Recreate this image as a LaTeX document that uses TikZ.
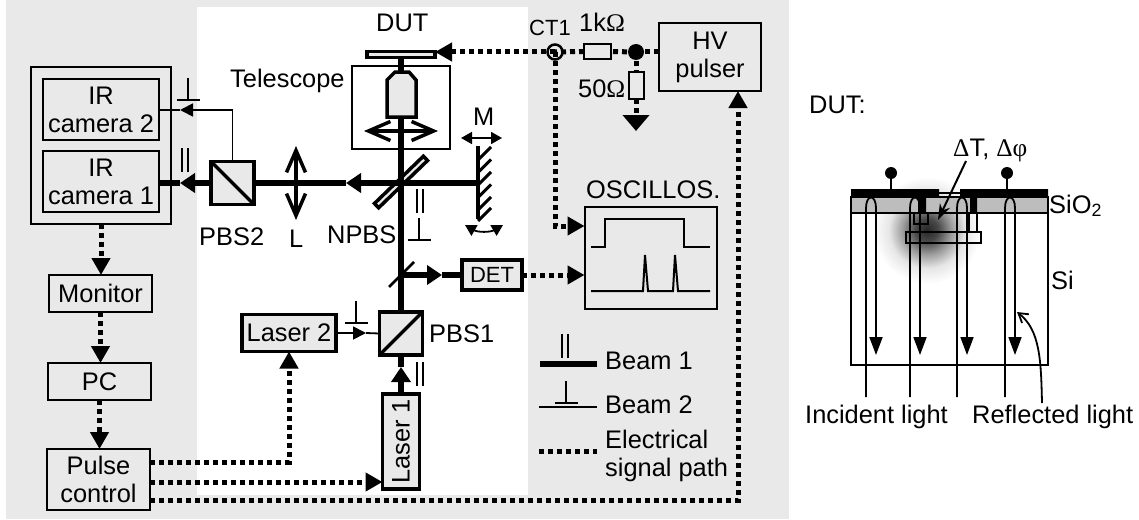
\documentclass[tikz,border=0pt]{standalone}
\usepackage{fontspec}
\setmainfont{Liberation Sans}
\newfontfamily\symfont{Liberation Serif}
\usepackage{tikz}
\usetikzlibrary{arrows.meta,positioning}
\definecolor{bggray}{HTML}{E9E9E9}
\definecolor{oxide}{HTML}{BDBDBD}
\pgfdeclareradialshading{heatglow}{\pgfpointorigin}{color(0bp)=(black!85); color(5bp)=(black!72); color(11bp)=(black!38); color(17bp)=(black!10); color(24bp)=(white); color(50bp)=(white)}

\begin{document}
\begin{tikzpicture}[
    x=1pt, y=-1pt,
    txt/.style={font=\fontsize{25.4}{28}\selectfont, inner sep=0pt, anchor=base west},
    box/.style={draw, line width=2pt, fill=bggray, align=center, inner sep=0pt, outer sep=0pt,
                font=\fontsize{25.4}{28}\selectfont},
    heavybox/.style={box, line width=3.5pt},
    cube/.style={heavybox, minimum size=43pt},
    beamone/.style={line width=6pt},
    beamtwo/.style={line width=1.8pt},
    elec/.style={line width=5pt, dash pattern=on 5pt off 4pt},
    headone/.style={-{Triangle[length=15pt,width=19pt]}},
    headtwo/.style={-{Triangle[length=13pt,width=13pt]}},
    headelec/.style={-{Triangle[length=17pt,width=18pt]}},
    lensarr/.style={{Straight Barb[length=22pt,width=19pt]}-{Straight Barb[length=22pt,width=19pt]}, line width=3.5pt},
    smallarr/.style={{Triangle[length=11pt,width=12pt]}-{Triangle[length=11pt,width=12pt]}, line width=1.8pt},
    lightleg/.style={line width=1.8pt, -{Triangle[length=18pt,width=13pt]}},
    parmark/.pic={\draw[line width=1.6pt] (-3,0) -- (-3,-24) (3,0) -- (3,-24);},
    perpmark/.pic={\draw[line width=1.6pt] (-11.5,0) -- (11.5,0) (0,0) -- (0,-22);}
  ]
  \useasboundingbox (0,0) rectangle (1139,519);
  \fill[bggray] (6,0) rectangle (789,519);
  \fill[white] (197,7) rectangle (528,495);

  % detection side
  \node[box, minimum width=140pt, minimum height=157pt] (camera) at (101,145.5) {};
  \node[box, minimum width=116pt, minimum height=61pt] (cam2) at (101,109.5) {IR\\camera 2};
  \node[box, minimum width=116pt, minimum height=61pt] (cam1) at (101,181.5) {IR\\camera 1};
  \node[box, minimum width=103pt, minimum height=37pt] (monitor) at (100.5,293.5) {Monitor};
  \node[box, minimum width=103pt, minimum height=37pt] (pc) at (99.5,381.5) {PC};
  \node[box, minimum width=103pt, minimum height=61pt] (pulse) at (98.5,479.5) {Pulse\\control};

  % optics
  \node[cube] (pbs2) at (232.5,183) {};
  \node[cube] (pbs1) at (401,333.5) {};
  \node[heavybox, minimum width=68pt, minimum height=6pt, rotate=44] (npbs) at (401,182) {};
  \node[heavybox, minimum width=68pt, minimum height=6pt] (dut) at (401,54.5) {};
  \node[heavybox, minimum width=94pt, minimum height=37pt] (laser2) at (289,333) {Laser 2};
  \node[heavybox, minimum width=95pt, minimum height=37pt, rotate=90] (laser1) at (401,441.5) {Laser 1};
  \node[heavybox, minimum width=60pt, minimum height=30pt,
        font=\fontsize{22}{26}\selectfont] (det) at (492,275) {DET};
  \draw[line width=3.5pt] (pbs2.north west) -- (pbs2.south east);
  \draw[line width=3.5pt] (pbs1.south west) -- (pbs1.north east);
  \coordinate (mirror) at (478,183);
  \coordinate (split) at (401,275);

  % electrical parts
  \node[box, minimum width=102pt, minimum height=68pt, fill=none] (hv) at (710,57) {HV\\pulser};
  \node[box, minimum width=132pt, minimum height=102pt, fill=none] (osc) at (650.5,257.5) {};
  \node[box, minimum width=27pt, minimum height=15pt] (rone) at (597.5,51.5) {};
  \node[box, minimum width=15pt, minimum height=27pt] (rtwo) at (636,85.5) {};
  \node[circle, fill=black, minimum size=16pt, inner sep=0pt, outer sep=0pt] (junc) at (636,52) {};
  \node[circle, draw, line width=2.5pt, minimum size=15pt, inner sep=0pt, outer sep=0pt] (ct) at (555,52) {};
  \coordinate (gnd) at (636,131);

  % beams
  \draw[beamone] (dut.south) -- (pbs1.north);
  \draw[beamone, headone] (mirror) -- (346,183) coordinate (tipa);
  \draw[beamone] (tipa) -- (pbs2.east);
  \draw[beamone, headone] (pbs2.west) -- (180,183) coordinate (tipb);
  \draw[beamone] (tipb) -- (tipb -| cam1.east);
  \draw[beamtwo, headtwo] (pbs2.north) |- (180,110) coordinate (tipc);
  \draw[beamtwo] (tipc) -- (tipc -| cam2.east);
  \draw[beamone, headone] (split) -- (442,275) coordinate (tipd);
  \draw[beamone] (tipd) -- (det.west);
  \draw[beamone, headone] (laser1.east) -- (401,367) coordinate (tipe);
  \draw[beamone] (tipe) -- (pbs1.south);
  \draw[beamtwo, headtwo] (laser2.east) -- (366,333) coordinate (tipf);
  \draw[beamtwo] (tipf) -- (pbs1.west);
  \draw[line width=2.5pt] (389,287) -- (414,262);

  % telescope and mirror
  \node[draw, line width=1.6pt, minimum width=98pt, minimum height=83pt, inner sep=0pt] (scope) at (401,107.5) {};
  \draw[line width=3.5pt, fill=bggray] (387,117) -- (387,80) -- (395,72) -- (409,72) -- (416,80) -- (416,117) -- cycle;
  \draw[lensarr] (364,131) -- (438,131);
  \draw[lensarr] (296,146) -- (296,220);
  \draw[line width=3.5pt] (478,146) -- (478,219);
  \foreach \y in {147,159.5,172,184.5,197,208}
    \draw[line width=3pt] (491,\y) -- (478,\y+13);
  \draw[smallarr] (461,138) -- (502,138);
  \draw[smallarr] (465,225) to[bend right=30] (503,225);

  % electrical paths
  \draw[elec] ([yshift=5pt]hv.west) -- (junc.center);
  \draw[elec] (junc.center) -- (rone.east);
  \draw[elec] (rone.west) -- (ct.center);
  \draw[elec, headelec] (ct.center) -- ([yshift=2.5pt]dut.east);
  \draw[elec] (junc.center) -- (rtwo.north);
  \draw[elec, -{Triangle[length=16pt,width=26pt]}] (rtwo.south) -- (gnd);
  \draw[elec, headelec] (ct.center) |- ([yshift=31.5pt]osc.west);
  \draw[elec, headelec] (det.east) -- (det.east -| osc.west);
  \draw[elec, headelec] (camera.south) -- (camera.south |- monitor.north);
  \draw[elec, headelec] (monitor.south) -- (monitor.south |- pc.north);
  \draw[elec, headelec] (pc.south) -- (pc.south |- pulse.north);
  \draw[elec, headelec] ([yshift=17.5pt]pulse.east) -| (laser2.south);
  \draw[elec, headelec] ([yshift=-2.5pt]pulse.east) -- ([yshift=-40.5pt]laser1.north);
  \draw[elec, headelec] ([yshift=-21pt]pulse.east) -| ([xshift=28pt]hv.south);

  % scope traces
  \draw[line width=2pt] (591,247) -- (605,247) -- (605,219) -- (684,219) -- (684,247) -- (710,247);
  \draw[line width=2pt] (591,291) -- (643,291) -- (645,255) -- (648,291) -- (673,291) -- (675,255) -- (678,291) -- (710,291);

  % polarisation marks
  \pic at (185,172) {parmark};
  \pic at (420,213) {parmark};
  \pic at (420,386) {parmark};
  \pic at (565,358) {parmark};
  \pic at (188,100) {perpmark};
  \pic at (419,240) {perpmark};
  \pic at (356,323) {perpmark};
  \pic at (566,403) {perpmark};

  % legend
  \coordinate (keyone) at (540,364);
  \coordinate (keytwo) at (539,407);
  \coordinate (keyel) at (539,451);
  \draw[beamone] (keyone) -- ++(57,0);
  \draw[beamtwo] (keytwo) -- ++(58,0);
  \draw[elec] (keyel) -- ++(58,0);

  % labels
  \node[txt] (telelab) at (230,87) {Telescope};
  \node[txt] (dutlab) at (376,32) {DUT};
  \node[txt, font=\fontsize{22}{26}\selectfont] (ctlab) at (529,36) {CT1};
  \node[txt] (ronelab) at (579,32) {1k{\symfont Ω}};
  \node[txt] (rtwolab) at (578,97) {50{\symfont Ω}};
  \node[txt] (osclab) at (586,198) {OSCILLOS.};
  \node[txt] (mlab) at (473,125) {M};
  \node[txt] (pbstwolab) at (199,245) {PBS2};
  \node[txt] (llab) at (289,247) {L};
  \node[txt] (npbslab) at (327,243) {NPBS};
  \node[txt] (pbsonelab) at (429,342) {PBS1};
  \node[txt] (keyonelab) at (605,369) {Beam 1};
  \node[txt] (keytwolab) at (605,413) {Beam 2};
  \node[txt, anchor=west, align=left] (keyellab) at (605,456) {Electrical\\signal path};

  % device cross section
  \node[txt] (devlab) at (809,113) {DUT:};
  \shade[shading=heatglow] (927,230) circle (56);
  \draw[line width=1.8pt, fill=oxide] (851,197) rectangle (1048,213);
  \draw[line width=1.8pt] (851,213) rectangle (1048,365);
  \draw[line width=1.8pt] (914,213) rectangle (928,224);
  \draw[line width=1.8pt] (906,232) rectangle (981,243);
  \draw[line width=1.8pt] (969,213) -- (969,232) (977,213) -- (977,232);
  \draw[line width=1.8pt] (939,193) -- (960,193);
  \fill (851,189) rectangle (939,197) (960,189) rectangle (1048,197);
  \fill (918,197) rectangle (926,213) (970,197) rectangle (977,213);
  \foreach \px in {891,1007} {
    \fill (\px,173) circle (6);
    \draw[line width=1.8pt] (\px,173) -- (\px,189);
  }
  \foreach \a in {866,910,957,1005}
    \draw[lightleg] (\a,397) -- (\a,208) .. controls (\a,194) and ({\a+10},194) .. ({\a+10},208) -- ({\a+10},355);
  \draw[line width=2pt, -{Stealth[length=16pt,width=11pt]}] (966,161) -- (938,220);
  \draw[line width=1.8pt, -{Straight Barb[length=9pt,width=11pt]}] (1042,403) .. controls (1041,360) and (1040,330) .. (1017,312);
  \node[txt] (deltalab) at (953,156) {{\symfont Δ}T, {\symfont Δφ}};
  \node[txt] (oxlab) at (1049,213) {SiO\textsubscript{2}};
  \node[txt] (silab) at (1051,289) {Si};
  \node[txt] (inclab) at (805,423) {Incident light};
  \node[txt] (reflab) at (972,423) {Reflected light};
\end{tikzpicture}
\end{document}
